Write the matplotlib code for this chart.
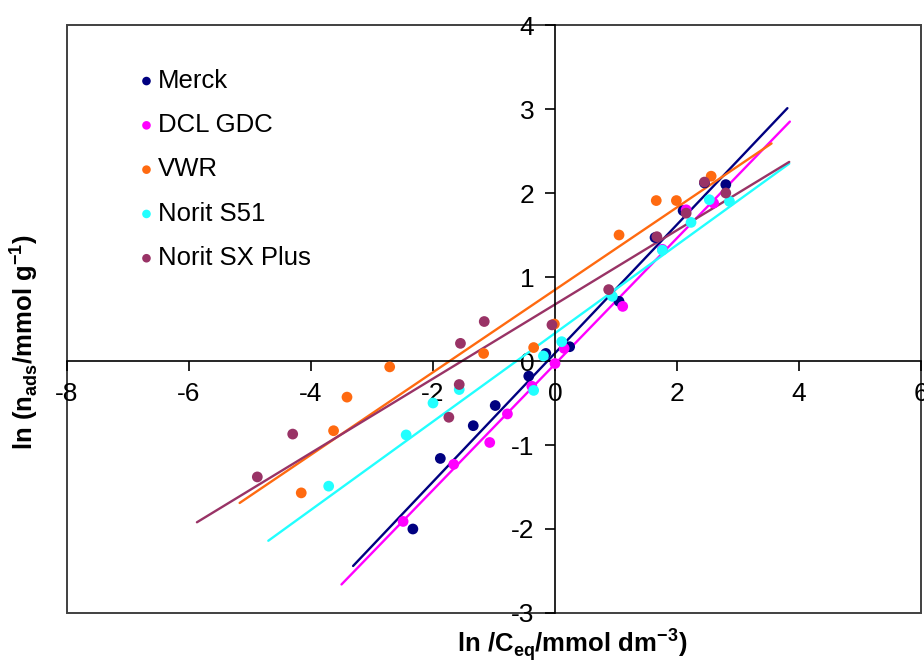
import matplotlib
matplotlib.use("Agg")
import matplotlib.pyplot as plt
from matplotlib.patches import Rectangle

plt.rcParams['font.family'] = ['Liberation Sans', 'DejaVu Sans']
plt.rcParams['axes.unicode_minus'] = False

# ln(C_eq) and ln(n_ads) values
merck_x = [-2.33, -1.88, -1.34, -0.98, -0.43, -0.15, 0.24, 1.05, 1.64, 2.10, 2.45, 2.80]
merck_y = [-2.00, -1.16, -0.77, -0.53, -0.18, 0.09, 0.17, 0.71, 1.47, 1.79, 2.12, 2.10]

dcl_x = [-2.49, -1.66, -1.07, -0.78, -0.38, 0.0, 0.15, 1.11, 1.76, 2.15, 2.60]
dcl_y = [-1.91, -1.23, -0.97, -0.63, -0.30, -0.03, 0.15, 0.65, 1.33, 1.80, 1.88]

vwr_x = [-4.16, -3.63, -3.41, -2.71, -1.17, -0.35, -0.01, 1.05, 1.66, 1.99, 2.56]
vwr_y = [-1.57, -0.83, -0.43, -0.07, 0.09, 0.16, 0.44, 1.50, 1.91, 1.91, 2.20]

s51_x = [-3.71, -2.44, -2.00, -1.57, -0.35, -0.19, 0.11, 0.94, 1.76, 2.23, 2.53, 2.86]
s51_y = [-1.49, -0.88, -0.50, -0.34, -0.35, 0.06, 0.23, 0.77, 1.32, 1.65, 1.92, 1.90]

sx_x = [-4.88, -4.30, -1.74, -1.57, -1.55, -1.16, -0.05, 0.88, 1.67, 2.15, 2.45, 2.80]
sx_y = [-1.38, -0.87, -0.67, -0.28, 0.21, 0.47, 0.43, 0.85, 1.48, 1.76, 2.13, 2.00]

# trend line end points
merck_fit_x = [-3.31, 3.81]
merck_fit_y = [-2.44, 3.01]
dcl_fit_x = [-3.50, 3.85]
dcl_fit_y = [-2.66, 2.85]
vwr_fit_x = [-5.17, 3.55]
vwr_fit_y = [-1.69, 2.59]
s51_fit_x = [-4.70, 3.84]
s51_fit_y = [-2.14, 2.35]
sx_fit_x = [-5.87, 3.84]
sx_fit_y = [-1.92, 2.37]

x_ticks = [-8, -6, -4, -2, 0, 2, 4, 6]
y_ticks = [-3, -2, -1, 0, 1, 2, 3, 4]

series = [
    ('Merck', merck_x, merck_y, merck_fit_x, merck_fit_y, '#000080'),
    ('DCL GDC', dcl_x, dcl_y, dcl_fit_x, dcl_fit_y, '#FF00FF'),
    ('VWR', vwr_x, vwr_y, vwr_fit_x, vwr_fit_y, '#FF6A10'),
    ('Norit S51', s51_x, s51_y, s51_fit_x, s51_fit_y, '#22FFFF'),
    ('Norit SX Plus', sx_x, sx_y, sx_fit_x, sx_fit_y, '#993366'),
]

fig = plt.figure(figsize=(9.24, 6.63), dpi=100)
ax = fig.add_axes([67/924, 50/663, 854/924, 588/663])

for name, xs, ys, fx, fy, col in series:
    ax.plot(fx, fy, color=col, lw=1.7, solid_capstyle='round', zorder=2)
for name, xs, ys, fx, fy, col in series:
    ax.scatter(xs, ys, s=60, color=col, edgecolors='none', label=name, zorder=3)

ax.set_xlim(-8, 6)
ax.set_ylim(-3, 4)
ax.set_xticks(x_ticks)
ax.set_yticks(y_ticks)

ax.spines['left'].set_position(('data', 0))
ax.spines['bottom'].set_position(('data', 0))
for s in ['left', 'bottom']:
    ax.spines[s].set_color('black')
    ax.spines[s].set_linewidth(1.2)
ax.spines['top'].set_visible(False)
ax.spines['right'].set_visible(False)
ax.add_patch(Rectangle((0, 0), 1, 1, transform=ax.transAxes, fill=False,
                       edgecolor='#404040', lw=1.4, clip_on=False, zorder=1))

ax.tick_params(direction='out', length=7, width=1.2, labelsize=19, pad=8)

ax.legend(loc='upper left', bbox_to_anchor=(0.072, 0.943), frameon=False,
          fontsize=18.5, handlelength=0.6, handletextpad=0.15, labelspacing=0.79,
          borderaxespad=0, scatterpoints=1, markerscale=0.8)

lab_font = ['Liberation Sans Narrow', 'Liberation Sans']
fig.text(572/924, 1 - 645/663, 'ln /C$_{\\mathregular{eq}}$/mmol dm$^{\\mathregular{-3}}$)',
         ha='center', va='center', fontsize=18.5, fontweight='bold', family=lab_font)
fig.text(24/924, 1 - 342/663, 'ln (n$_{\\mathregular{ads}}$/mmol g$^{\\mathregular{-1}}$)',
         ha='center', va='center', fontsize=18.5, fontweight='bold', family=lab_font,
         rotation=90)

fig.savefig('out.png', dpi=100)
